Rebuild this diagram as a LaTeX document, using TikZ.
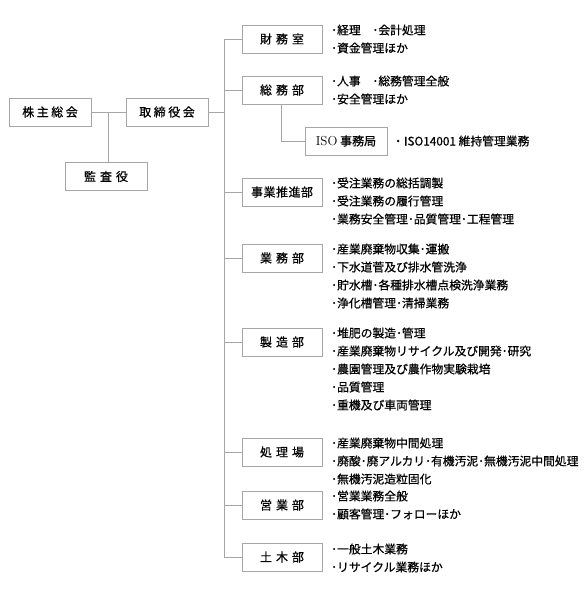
\documentclass[tikz,border=0pt]{standalone}
\usepackage{fontspec}
\usepackage{tikz}
\newfontfamily\jpfont{Noto Sans CJK JP}[FakeBold=0.6]
\newcommand\gp[1]{\hspace{#1pt}}
\tikzset{
  boxnode/.style={draw=black!35, line width=0.8pt, minimum width=80pt, minimum height=28pt, inner sep=0pt, font=\jpfont\fontsize{12}{14}\selectfont},
  itemnode/.style={anchor=west, inner sep=0pt, font=\jpfont\fontsize{11.8}{14}\selectfont},
  link/.style={draw=black!35, line width=0.8pt}
}
\begin{document}
\begin{tikzpicture}[x=1pt,y=-1pt]
        \useasboundingbox (0,0) rectangle (584,591);
        % left side
        \node[boxnode, minimum width=82pt] (kabunushi) at (50,112) {株\gp{2.5}主\gp{2.5}総\gp{2.5}会};
        \node[boxnode, minimum width=82pt] (torishimari) at (167,112) {取\gp{2.5}締\gp{2.5}役\gp{2.5}会};
        \node[boxnode, minimum width=82pt] (kansa) at (106,176.5) {監\gp{4}査\gp{4}役};
        \coordinate (split) at (108,112);
        \coordinate (trunk) at (224,112);
        \draw[link] (kabunushi.east)--(torishimari.west);
        \draw[link] (split)--(split |- kansa.north);
        \draw[link] (torishimari.east)--(trunk);
        % departments
        \node[boxnode] (zaimu) at (282,39) {財\gp{4}務\gp{4}室};
        \node[boxnode] (soumu) at (282,90) {総\gp{4}務\gp{4}部};
        \node[boxnode, minimum width=82pt] (iso) at (346,141) {{\rmfamily\fontsize{13}{14}\selectfont ISO} 事務局};
        \node[boxnode] (jigyou) at (282,192) {事\gp{0.5}業\gp{0.5}推\gp{0.5}進\gp{0.5}部};
        \node[boxnode] (gyoumu) at (282,258) {業\gp{4}務\gp{4}部};
        \node[boxnode] (seizou) at (282,342) {製\gp{4}造\gp{4}部};
        \node[boxnode] (shori) at (282,452) {処\gp{4}理\gp{4}場};
        \node[boxnode] (eigyou) at (282,505) {営\gp{4}業\gp{4}部};
        \node[boxnode] (doboku) at (282,557) {土\gp{4}木\gp{4}部};
        \draw[link] (trunk |- zaimu.west)--(trunk |- doboku.west);
        \foreach \d in {zaimu,soumu,jigyou,gyoumu,seizou,shori,eigyou,doboku}
          \draw[link] (trunk |- \d.west)--(\d.west);
        \draw[link] ([xshift=-1pt]soumu.south) |- (iso.west);
        % duties
        \foreach \t [count=\i] in {･経理　･会計処理,･資金管理ほか}
          \node[itemnode] (zaimu-\i) at (331,{30+18*(\i-1)}) {\t};
        \foreach \t [count=\i] in {･人事　･総務管理全般,･安全管理ほか}
          \node[itemnode] (soumu-\i) at (331,{81+18*(\i-1)}) {\t};
        \node[itemnode] (iso-1) at (392,141) {・ISO14001 維持管理業務};
        \foreach \t [count=\i] in {･受注業務の総括調製,･受注業務の履行管理,･業務安全管理･品質管理･工程管理}
          \node[itemnode] (jigyou-\i) at (331,{183+18*(\i-1)}) {\t};
        \foreach \t [count=\i] in {･産業廃棄物収集･運搬,･下水道菅及び排水管洗浄,･貯水槽･各種排水槽点検洗浄業務,･浄化槽管理･清掃業務}
          \node[itemnode] (gyoumu-\i) at (331,{249+18*(\i-1)}) {\t};
        \foreach \t [count=\i] in {･堆肥の製造･管理,･産業廃棄物リサイクル及び開発･研究,･農園管理及び農作物実験栽培,･品質管理,･重機及び車両管理}
          \node[itemnode] (seizou-\i) at (331,{333+18*(\i-1)}) {\t};
        \foreach \t [count=\i] in {･産業廃棄物中間処理,･廃酸･廃アルカリ･有機汚泥･無機汚泥中間処理,･無機汚泥造粒固化}
          \node[itemnode] (shori-\i) at (331,{443+18*(\i-1)}) {\t};
        \foreach \t [count=\i] in {･営業業務全般,･顧客管理･フォローほか}
          \node[itemnode] (eigyou-\i) at (331,{496+18*(\i-1)}) {\t};
        \foreach \t [count=\i] in {･一般土木業務,･リサイクル業務ほか}
          \node[itemnode] (doboku-\i) at (331,{549+18*(\i-1)}) {\t};
\end{tikzpicture}
\end{document}
